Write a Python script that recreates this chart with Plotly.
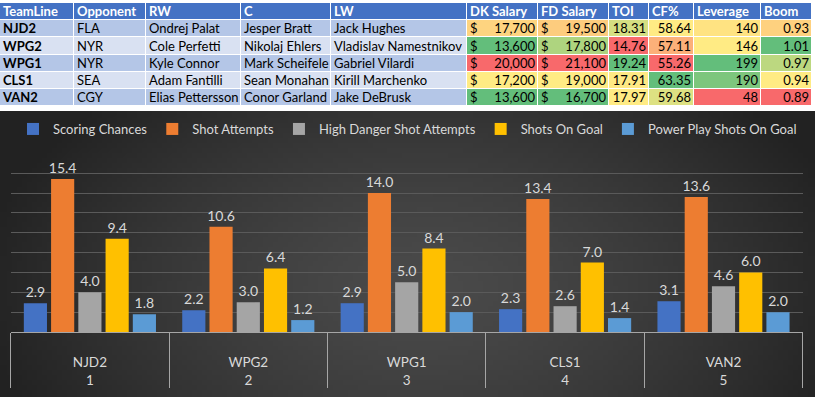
import base64, struct, zlib, math
import plotly.graph_objects as go

# ---------------- data ----------------
team_lines = ["NJD2", "WPG2", "WPG1", "CLS1", "VAN2"]
ranks = ["1", "2", "3", "4", "5"]
opponents = ["FLA", "NYR", "NYR", "SEA", "CGY"]
rw = ["Ondrej Palat", "Cole Perfetti", "Kyle Connor", "Adam Fantilli", "Elias Pettersson"]
c_players = ["Jesper Bratt", "Nikolaj Ehlers", "Mark Scheifele", "Sean Monahan", "Conor Garland"]
lw = ["Jack Hughes", "Vladislav Namestnikov", "Gabriel Vilardi", "Kirill Marchenko", "Jake DeBrusk"]
dk_salary = [17700, 13600, 20000, 17200, 13600]
fd_salary = [19500, 17800, 21100, 19000, 16700]
toi = [18.31, 14.76, 19.24, 17.91, 17.97]
cf_pct = [58.64, 57.11, 55.26, 63.35, 59.68]
leverage = [140, 146, 199, 190, 48]
boom = [0.93, 1.01, 0.97, 0.94, 0.89]

table_headers = ["TeamLine", "Opponent", "RW", "C", "LW", "DK Salary", "FD Salary",
                 "TOI", "CF%", "Leverage", "Boom"]

series_names = ["Scoring Chances", "Shot Attempts", "High Danger Shot Attempts",
                "Shots On Goal", "Power Play Shots On Goal"]
scoring_chances = [2.9, 2.2, 2.9, 2.3, 3.1]
shot_attempts = [15.4, 10.6, 14.0, 13.4, 13.6]
high_danger = [4.0, 3.0, 5.0, 2.6, 4.6]
shots_on_goal = [9.4, 6.4, 8.4, 7.0, 6.0]
pp_shots_on_goal = [1.8, 1.2, 2.0, 1.4, 2.0]
series_values = [scoring_chances, shot_attempts, high_danger, shots_on_goal, pp_shots_on_goal]
series_colors = ["#4472C4", "#ED7D31", "#A5A5A5", "#FFC000", "#5B9BD5"]

# ---------------- layout constants ----------------
W, H = 815, 397
FONT = "Lato"
NB = "\u00a0"
col_w = [74, 72, 95, 90, 136, 71, 71, 40, 45, 67, 51]   # table column widths (px)
PAD = 3          # cell text inset (px)
TXT_DY = 0.08    # small vertical nudge of cell text (rows)
bg_top = 111     # px from top where the dark chart area begins

# ---------------- Excel-like 3 color scale ----------------
RED, YEL, GRN = (248, 105, 107), (255, 235, 132), (99, 190, 123)


def color_scale(vals, low_good=False):
    s = sorted(vals)
    lo, hi = s[0], s[-1]
    mid = s[len(s) // 2]
    lo_c, hi_c = (GRN, RED) if low_good else (RED, GRN)
    out = []
    for v in vals:
        if v <= mid:
            f = 0 if mid == lo else (v - lo) / (mid - lo)
            a, b = lo_c, YEL
        else:
            f = (v - mid) / (hi - mid)
            a, b = YEL, hi_c
        rgb = [round(a[i] + (b[i] - a[i]) * f) for i in range(3)]
        out.append("rgb(%d,%d,%d)" % tuple(rgb))
    return out


n_rows = len(team_lines)
n_cols = len(table_headers)
band = ["#B4C6E7" if i % 2 == 0 else "#D9E1F2" for i in range(n_rows)]
col_fills = [band] * 5 + [
    color_scale(dk_salary, low_good=True),
    color_scale(fd_salary, low_good=True),
    color_scale(toi),
    color_scale(cf_pct),
    color_scale(leverage),
    color_scale(boom),
]
color_rows = [["#4472C4"] * n_cols] + [[col_fills[c][r] for c in range(n_cols)]
                                       for r in range(n_rows)]
palette = []
for row in color_rows:
    for col in row:
        if col not in palette:
            palette.append(col)
z_codes = [[palette.index(col) for col in row] for row in color_rows]
npal = len(palette)
cscale = []
for k, col in enumerate(palette):
    cscale += [[k / npal, col], [(k + 1) / npal, col]]

edges = [0]
for w in col_w:
    edges.append(edges[-1] + w)
row_edges = [i - 0.5 for i in range(n_rows + 2)]
body_y = [r + 1 + TXT_DY for r in range(n_rows)]

# ---------------- background gradient image ----------------
def gradient_png(w, h):
    rows = []
    for j in range(h):
        v = j / (h - 1)
        row = bytearray([0])
        for i in range(w):
            u = i / (w - 1)
            du = (u - 0.52) / 0.55
            dv = (v - 0.62) / 0.95
            t = min(1.0, math.sqrt(du * du + dv * dv))
            g = int(round(74 - 40 * t ** 1.4))
            row.append(g)
        rows.append(bytes(row))
    raw = b"".join(rows)

    def chunk(tag, data):
        c = struct.pack(">I", len(data)) + tag + data
        return c + struct.pack(">I", zlib.crc32(tag + data) & 0xFFFFFFFF)

    png = b"\x89PNG\r\n\x1a\n"
    png += chunk(b"IHDR", struct.pack(">IIBBBBB", w, h, 8, 0, 0, 0, 0))
    png += chunk(b"IDAT", zlib.compress(raw, 9))
    png += chunk(b"IEND", b"")
    return "data:image/png;base64," + base64.b64encode(png).decode()


fig = go.Figure()

# ---------------- table: cell fills ----------------
fig.add_trace(go.Heatmap(
    x=edges, y=row_edges, z=z_codes, colorscale=cscale,
    zmin=-0.5, zmax=npal - 0.5, showscale=False, xgap=1, ygap=1,
    hoverinfo="skip", xaxis="x2", yaxis="y2",
))


def add_text(xs, ys, texts, pos, color="black", weight="normal"):
    fig.add_trace(go.Scatter(
        x=xs, y=ys, text=texts, mode="text", textposition=pos,
        textfont=dict(family=FONT, size=13, color=color, weight=weight),
        hoverinfo="skip", showlegend=False, cliponaxis=False,
        xaxis="x2", yaxis="y2",
    ))


# header
add_text([edges[c] + PAD for c in range(n_cols)], [TXT_DY] * n_cols,
         table_headers, "middle right", color="white", weight="bold")
# TeamLine column (bold)
add_text([edges[0] + PAD] * n_rows, body_y, team_lines, "middle right", weight="bold")
# other text columns
for c, vals in [(1, opponents), (2, rw), (3, c_players), (4, lw)]:
    add_text([edges[c] + PAD] * n_rows, body_y, vals, "middle right")
# accounting-style salary columns: "$" left, amount right
for c, vals in [(5, dk_salary), (6, fd_salary)]:
    add_text([edges[c] + PAD] * n_rows, body_y, ["$"] * n_rows, "middle right")
    add_text([edges[c + 1] - PAD] * n_rows, body_y, [f"{v:,}" for v in vals], "middle left")
# right aligned numeric columns
for c, vals in [(7, [f"{v:.2f}" for v in toi]), (8, [f"{v:.2f}" for v in cf_pct]),
                (9, [str(v) for v in leverage]), (10, [f"{v:.2f}" for v in boom])]:
    add_text([edges[c + 1] - PAD] * n_rows, body_y, vals, "middle left")

# ---------------- bar chart ----------------
# a blank first line pushes the team-line labels (and the rank row) down
inner_labels = [NB + "<br>" + t for t in team_lines]

for name, vals, col in zip(series_names, series_values, series_colors):
    fig.add_trace(go.Bar(
        name=name,
        x=[ranks, inner_labels],
        y=vals,
        marker=dict(color=col, line=dict(width=0)),
        texttemplate="%{y:.1f}",
        textposition="outside",
        constraintext="none",
        cliponaxis=False,
        textfont=dict(family=FONT, size=14, color="#D9D9D9"),
        xaxis="x", yaxis="y",
    ))

fig.update_layout(
    width=W, height=H,
    margin=dict(l=0, r=0, t=0, b=0),
    paper_bgcolor="white",
    plot_bgcolor="rgba(0,0,0,0)",
    barmode="group",
    bargap=0.14,
    bargroupgap=0.15,
    font=dict(family=FONT, color="#D9D9D9"),
    showlegend=True,
    legend=dict(orientation="h", x=0.5, xanchor="center", y=(H - 129) / H,
                yanchor="middle", font=dict(family=FONT, size=13, color="#D9D9D9"),
                bgcolor="rgba(0,0,0,0)", itemwidth=30),
    xaxis=dict(domain=[10.7 / W, 802.7 / W], showline=True, linecolor="#A6A6A6",
               linewidth=1, showgrid=False, ticks="",
               showdividers=True, dividercolor="#A6A6A6", dividerwidth=1,
               tickfont=dict(family=FONT, size=13.5, color="#D9D9D9")),
    yaxis=dict(domain=[(H - 332) / H, (H - 153.3) / H], range=[0, 18], dtick=2,
               showticklabels=False, showgrid=True, gridcolor="#5A5A5A",
               gridwidth=1, zeroline=False, showline=False),
    xaxis2=dict(domain=[0, edges[-1] / W], range=[0, edges[-1]], anchor="y2",
                visible=False, fixedrange=True),
    yaxis2=dict(domain=[1 - 106 / H, 1 - 3 / H], range=[n_rows + 0.5, -0.5],
                anchor="x2", visible=False, fixedrange=True),
    images=[dict(source=gradient_png(163, 58), xref="paper", yref="paper",
                 x=0, y=(H - bg_top) / H, sizex=1, sizey=(H - bg_top) / H,
                 xanchor="left", yanchor="top", sizing="stretch", layer="below")],
)

fig.write_html("out.html",
               config={"displayModeBar": False},
               post_script="document.body.style.margin='0';"
                           "document.body.style.overflow='hidden';")
